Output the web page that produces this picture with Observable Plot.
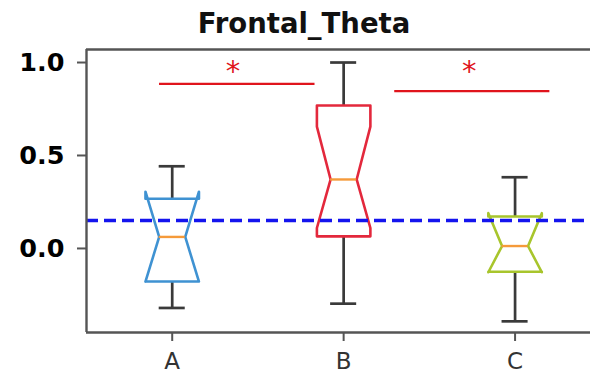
<!DOCTYPE html>
<html>
<head>
<meta charset="utf-8">
<script src="https://cdn.jsdelivr.net/npm/d3@7"></script>
<script src="https://cdn.jsdelivr.net/npm/@observablehq/plot@0.6"></script>
<style>
  html, body { margin: 0; padding: 0; background: #fff; }
  #wrap { position: relative; width: 590px; height: 374px; overflow: hidden; font-family: "DejaVu Sans", sans-serif; }
  #title { position: absolute; left: 0; top: 10px; width: 608px; text-align: center; font: bold 27.5px/27px "DejaVu Sans", sans-serif; color: #111; }
  #chart svg { display: block; }
  g[aria-label="y-axis tick label"] { font-weight: bold; font-size: 25.5px; }
  g[aria-label="x-axis tick label"] { font-size: 23px; }
</style>
</head>
<body>
<div id="wrap">
  <div id="chart"></div>
  <div id="title">Frontal_Theta</div>
</div>
<script>
// ---- data ----
const categories = ["A", "B", "C"];
const positions = [1, 2, 3];
const q1 = [-0.178, 0.065, -0.125];
const q3 = [0.267, 0.769, 0.172];
const medians = [0.062, 0.371, 0.013];
const notchLo = [-0.178, 0.11, -0.128];
const notchHi = [0.305, 0.655, 0.19];
const whiskerLo = [-0.32, -0.297, -0.392];
const whiskerHi = [0.442, 1.0, 0.383];
const boxColors = ["#3f92d2", "#e3283c", "#a8c52c"];
const refLine = [0.15];
const sigX1 = [0.926, 2.298];
const sigX2 = [1.833, 3.203];
const sigY = [0.885, 0.846];
const starX = [1.355, 2.733];
const starY = [0.95, 0.95];
const yTicks = [0, 0.5, 1.0];

// ---- derived tables ----
const halfW = 0.156, notchW = 0.076, capW = 0.076;
const boxPts = [];
positions.forEach((p, i) => {
  const shape = [
    [p - halfW, q1[i]], [p + halfW, q1[i]], [p + halfW, notchLo[i]], [p + notchW, medians[i]],
    [p + halfW, notchHi[i]], [p + halfW, q3[i]], [p - halfW, q3[i]], [p - halfW, notchHi[i]],
    [p - notchW, medians[i]], [p - halfW, notchLo[i]], [p - halfW, q1[i]]
  ];
  shape.forEach(([x, y]) => boxPts.push({ x, y, cat: categories[i], color: boxColors[i] }));
});
const boxes = positions.map((p, i) => ({
  p, q1: q1[i], q3: q3[i], med: medians[i], lo: whiskerLo[i], hi: whiskerHi[i]
}));
const sig = sigX1.map((x1, i) => ({ x1, x2: sigX2[i], y: sigY[i] }));
const stars = starX.map((x, i) => ({ x, y: starY[i] }));

const yMin = -0.452, yMax = 1.07, xMin = 0.5, xMax = 3.44;

const chart = Plot.plot({
  width: 590,
  height: 374,
  marginLeft: 86,
  marginRight: 0,
  marginTop: 49,
  marginBottom: 42,
  style: { fontFamily: "DejaVu Sans, sans-serif", background: "#fff" },
  x: { type: "linear", domain: [xMin, xMax], axis: null },
  y: { type: "linear", domain: [yMin, yMax], axis: null },
  marks: [
    // whiskers
    Plot.ruleX(boxes, { x: "p", y1: "q3", y2: "hi", stroke: "#3a3a3a", strokeWidth: 2.7 }),
    Plot.ruleX(boxes, { x: "p", y1: "q1", y2: "lo", stroke: "#3a3a3a", strokeWidth: 2.7 }),
    Plot.ruleY(boxes, { y: "hi", x1: d => d.p - capW, x2: d => d.p + capW, stroke: "#3a3a3a", strokeWidth: 2.7 }),
    Plot.ruleY(boxes, { y: "lo", x1: d => d.p - capW, x2: d => d.p + capW, stroke: "#3a3a3a", strokeWidth: 2.7 }),
    // notched boxes
    Plot.line(boxPts, { x: "x", y: "y", z: "cat", stroke: "color", strokeWidth: 2.6, strokeLinejoin: "round", fill: "none" }),
    // medians
    Plot.ruleY(boxes, { y: "med", x1: d => d.p - notchW, x2: d => d.p + notchW, stroke: "#f59a3a", strokeWidth: 2.4 }),
    // reference line
    Plot.ruleY(refLine, { stroke: "#1414ee", strokeWidth: 3.5, strokeDasharray: "12,6" }),
    // significance
    Plot.ruleY(sig, { y: "y", x1: "x1", x2: "x2", stroke: "#e0141c", strokeWidth: 2.2 }),
    Plot.text(stars, { x: "x", y: "y", text: () => "*", fill: "#e0141c", fontSize: 29 }),
    // spines
    Plot.ruleX([xMin], { stroke: "#555", strokeWidth: 2.4 }),
    Plot.ruleY([yMin, yMax], { stroke: "#555", strokeWidth: 2.4 }),
    // axes
    Plot.axisY(yTicks, { tickSize: 9, tickPadding: 13, tickFormat: d => d.toFixed(1), stroke: "#555", strokeWidth: 2, fill: "#000" }),
    Plot.axisX(positions, { tickSize: 9, tickPadding: 11, tickFormat: d => categories[positions.indexOf(d)], stroke: "#555", strokeWidth: 2, fill: "#333" })
  ]
});
document.getElementById("chart").appendChild(chart);
</script>
</body>
</html>
